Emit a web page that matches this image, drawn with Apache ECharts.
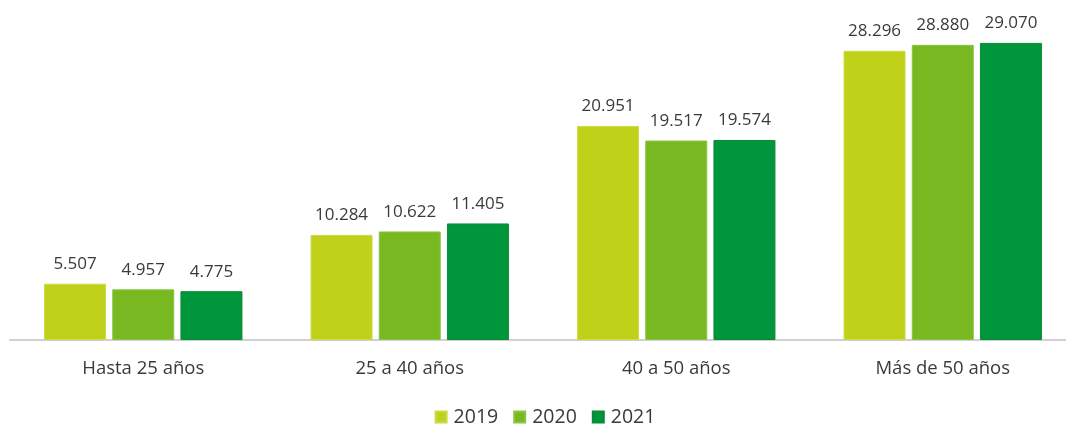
<!DOCTYPE html>
<html>
<head>
<meta charset="utf-8">
<script src="https://cdn.jsdelivr.net/npm/echarts@6/dist/echarts.min.js"></script>
<style>
  html, body { margin: 0; padding: 0; background: #fff; overflow: hidden; }
  #chart { width: 1090px; height: 424px; }
</style>
</head>
<body>
<div id="chart"></div>
<script>
const categories = ['Hasta 25 años', '25 a 40 años', '40 a 50 años', 'Más de 50 años'];
const seriesNames = ['2019', '2020', '2021'];
const values2019 = [5507, 10284, 20951, 28296];
const values2020 = [4957, 10622, 19517, 28880];
const values2021 = [4775, 11405, 19574, 29070];
const colors = ['#BFD118', '#78B921', '#00963B'];
const borders = ['#CCDA45', '#8CC443', '#0A8A38'];

// thousands separated with a dot
function fmt(v) {
  return String(v).replace(/\B(?=(\d{3})+(?!\d))/g, '.');
}

const font = '"Open Sans", "Noto Sans", sans-serif';
const allValues = [values2019, values2020, values2021];

const chart = echarts.init(document.getElementById('chart'));
chart.setOption({
  animation: false,
  textStyle: { fontFamily: font },
  grid: { left: 10, top: 33.4, width: 1066, bottom: 84, containLabel: false },
  legend: {
    data: seriesNames,
    top: 402,
    left: 'center',
    itemWidth: 11,
    itemHeight: 11,
    itemGap: 15,
    icon: 'rect',
    textStyle: { fontSize: 19.5, color: '#3A3A3A', fontFamily: font, padding: [0, 0, 0, 2] }
  },
  xAxis: {
    type: 'category',
    data: categories,
    axisLine: { show: true, lineStyle: { color: '#D0D0D0', width: 2 } },
    axisTick: { show: false },
    axisLabel: { fontSize: 18.5, color: '#3A3A3A', margin: 19, fontFamily: font }
  },
  yAxis: {
    type: 'value',
    min: 0,
    max: 30000,
    show: false,
    splitLine: { show: false }
  },
  series: seriesNames.map((name, i) => ({
    name: name,
    type: 'bar',
    data: allValues[i],
    barWidth: 62,
    barGap: '10%',
    itemStyle: { color: colors[i], borderColor: borders[i], borderWidth: 1 },
    label: {
      show: true,
      position: 'top',
      distance: 11,
      fontSize: 17,
      color: '#3A3A3A',
      fontFamily: font,
      formatter: p => fmt(p.value)
    }
  }))
});
</script>
</body>
</html>
